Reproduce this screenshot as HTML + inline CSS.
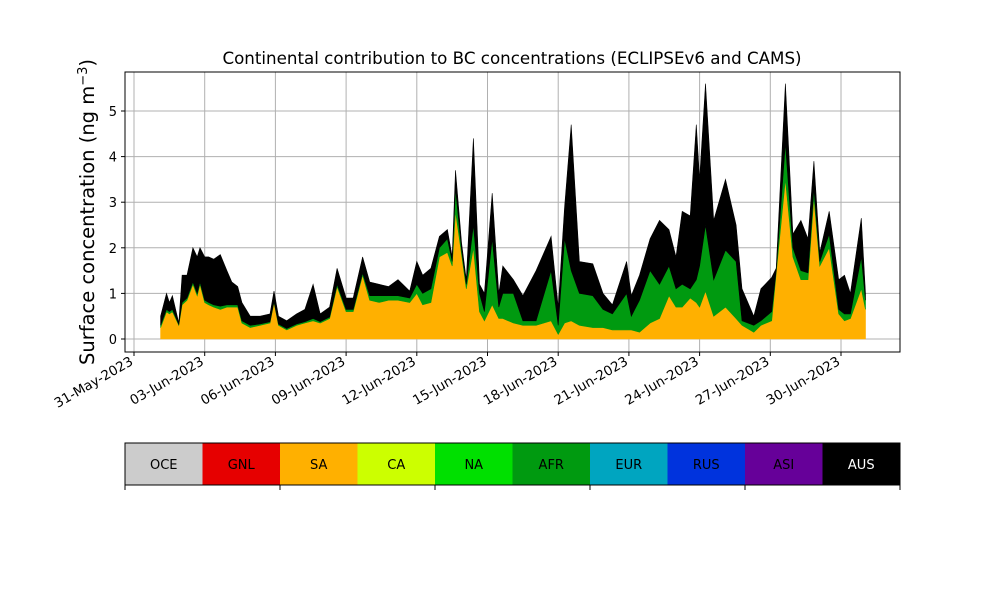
<!DOCTYPE html>
<html><head><meta charset="utf-8"><style>
body{margin:0;background:#fff;}
svg{display:block;font-family:"DejaVu Sans","Liberation Sans",sans-serif;}
</style></head><body>
<svg id="chart" width="1000" height="600" viewBox="0 0 1000 600">
<text x="512" y="64" text-anchor="middle" font-size="16.7">Continental contribution to BC concentrations (ECLIPSEv6 and CAMS)</text>
<text transform="translate(94,212) rotate(-90)" text-anchor="middle" font-size="19.5">Surface concentration (ng m<tspan baseline-shift="super" font-size="13">−3</tspan>)</text>
<g id="grid"></g><g id="areas"></g><g id="axes"></g><g id="cbar"></g>
</svg>
<script>
const days=[1.13,1.38,1.5,1.63,1.9,2.04,2.25,2.5,2.68,2.8,3.0,3.17,3.38,3.66,3.94,4.15,4.4,4.58,4.93,5.35,5.77,5.94,6.13,6.48,6.9,7.25,7.6,7.9,8.3,8.62,9.0,9.3,9.7,10.0,10.4,10.8,11.2,11.7,12.0,12.25,12.6,12.96,13.3,13.5,13.64,13.9,14.1,14.4,14.66,14.87,15.2,15.48,15.65,16.1,16.5,17.06,17.7,18.0,18.27,18.55,18.9,19.47,19.9,20.3,20.9,21.1,21.45,21.9,22.3,22.7,23.0,23.26,23.6,23.86,24.0,24.25,24.6,25.1,25.55,25.8,26.3,26.6,27.06,27.25,27.64,27.96,28.3,28.6,28.85,29.1,29.5,29.9,30.15,30.4,30.86,31.04];
const saVals=[.25,.6,.55,.6,.3,.75,.85,1.2,.95,1.2,.8,.75,.7,.65,.7,.7,.7,.35,.25,.3,.35,.8,.3,.2,.3,.35,.4,.35,.45,1.15,.6,.6,1.4,.85,.8,.85,.85,.8,1.0,.75,.8,1.8,1.9,1.6,2.8,1.85,1.1,2.0,.6,.4,.75,.45,.45,.35,.3,.3,.4,.1,.35,.4,.3,.25,.25,.2,.2,.2,.15,.35,.45,.95,.7,.7,.9,.8,.7,1.05,.5,.7,.45,.3,.15,.3,.4,1.45,3.5,1.8,1.3,1.3,3.1,1.6,2.0,.55,.4,.45,1.1,.65];
const afrVals=[.05,.05,.05,.05,.02,.05,.05,.05,.05,.05,.05,.05,.05,.07,.05,.05,.05,.05,.05,.03,.03,.02,.03,.03,.03,.03,.05,.03,.03,.05,.05,.05,.05,.1,.15,.1,.1,.1,.2,.25,.3,.2,.3,.1,.5,.1,.1,.5,.4,.2,1.45,.25,.55,.65,.1,.1,1.1,.2,1.85,1.1,.7,.7,.4,.35,.8,.3,.7,1.15,.75,.65,.4,.5,.2,.5,.9,1.45,.8,1.25,1.25,.1,.15,.1,.2,.05,.8,.2,.2,.15,.2,.1,.3,.1,.15,.1,.7,.2];
const ausVals=[.2,.35,.2,.3,.03,.6,.5,.75,.8,.75,.95,1.0,1.0,1.13,.75,.5,.4,.4,.2,.17,.17,.23,.17,.17,.22,.27,.75,.17,.22,.35,.25,.25,.35,.3,.25,.2,.35,.15,.5,.4,.45,.25,.2,.1,.4,.15,.1,1.9,.2,.4,1.0,.3,.6,.3,.55,1.1,.75,.4,.7,3.2,.7,.7,.35,.2,.7,.45,.55,.7,1.4,.8,.7,1.6,1.6,3.4,1.9,3.1,1.3,1.55,.8,.7,.2,.7,.75,.05,1.3,.3,1.1,.75,.6,.2,.5,.65,.85,.45,.85,.15];
const yTicks=[0,1,2,3,4,5];
const xTickDays=[0,3,6,9,12,15,18,21,24,27,30];
const xTickLabels=["31-May-2023","03-Jun-2023","06-Jun-2023","09-Jun-2023","12-Jun-2023","15-Jun-2023","18-Jun-2023","21-Jun-2023","24-Jun-2023","27-Jun-2023","30-Jun-2023"];
const regions=["OCE","GNL","SA","CA","NA","AFR","EUR","RUS","ASI","AUS"];
const regionColors=["#cccccc","#e60000","#ffb000","#ccff00","#00e000","#009a10","#00a5c0","#0033dd","#660099","#000000"];

const NS="http://www.w3.org/2000/svg";
const L=125,R=900,T=72,B=352;
const xs=d=>134+d*23.567;
const ys=v=>339-v*45.6;
function mk(tag,attrs,parent){const e=document.createElementNS(NS,tag);for(const k in attrs)e.setAttribute(k,attrs[k]);parent.appendChild(e);return e;}
const grid=document.getElementById('grid'),areas=document.getElementById('areas'),axes=document.getElementById('axes'),cbar=document.getElementById('cbar');
yTicks.forEach(v=>{
  const g=mk('line',{x1:L,x2:R,y1:ys(v),y2:ys(v),stroke:'#b0b0b0','stroke-width':1},grid);
  
  
  mk('line',{x1:L-4,x2:L,y1:ys(v),y2:ys(v),stroke:'#000'},axes);
  const t=mk('text',{x:L-8,y:ys(v)+5,'text-anchor':'end','font-size':13},axes);
  t.textContent=v;
  
  
});
xTickDays.forEach((d,i)=>{
  const x=xs(d);
  const g=mk('line',{x1:x,x2:x,y1:T,y2:B,stroke:'#b0b0b0','stroke-width':1},grid);
  
  
  mk('line',{x1:x,x2:x,y1:B,y2:B+4,stroke:'#000'},axes);
  const t=mk('text',{x:x,y:B+12,'text-anchor':'end','font-size':13.4,transform:`rotate(-30 ${x} ${B+12})`},axes);
  t.textContent=xTickLabels[i];
  
  
});
const layers=[[saVals,regionColors[2],'area-sa'],[afrVals,regionColors[5],'area-afr'],[ausVals,regionColors[9],'area-aus']];
let base=days.map(()=>0);
layers.forEach(([vals,col,name])=>{
  const top=base.map((b,i)=>b+vals[i]);
  let d='M'+days.map((dd,i)=>xs(dd).toFixed(1)+','+ys(top[i]).toFixed(1)).join('L');
  for(let i=days.length-1;i>=0;i--)d+='L'+xs(days[i]).toFixed(1)+','+ys(base[i]).toFixed(1);
  const p=mk('path',{d:d+'Z',fill:col,stroke:col,'stroke-width':0.6},areas);
  
  
  base=top;
});
const fr=mk('rect',{x:L,y:T,width:R-L,height:B-T,fill:'none',stroke:'#000','stroke-width':1},axes);


const w=(R-L)/regions.length;
regions.forEach((r,i)=>{
  const rc=mk('rect',{x:L+i*w,y:443,width:w,height:42,fill:regionColors[i]},cbar);
  
  
  const t=mk('text',{x:L+i*w+w/2,y:469,'text-anchor':'middle','font-size':13,fill:(r==='AUS'?'#fff':'#000')},cbar);
  t.textContent=r;
  
  
});
mk('rect',{x:L,y:443,width:R-L,height:42,fill:'none',stroke:'#000'},cbar);
for(let i=0;i<=5;i++){const x=L+i*(R-L)/5;mk('line',{x1:x,x2:x,y1:485,y2:490,stroke:'#000'},cbar);}
</script>
</body></html>
